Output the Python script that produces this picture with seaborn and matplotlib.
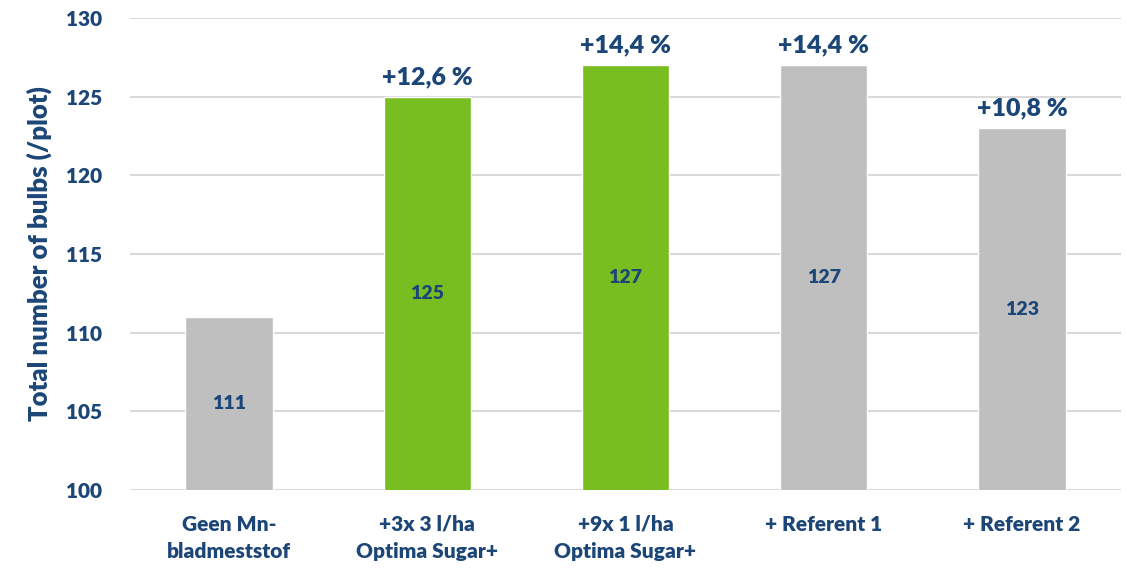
import matplotlib
matplotlib.use("Agg")
import matplotlib.pyplot as plt
import seaborn as sns
import pandas as pd

# Data
categorieen = ["Geen Mn-\nbladmeststof", "+3x 3 l/ha\nOptima Sugar+", "+9x 1 l/ha\nOptima Sugar+",
               "+ Referent 1", "+ Referent 2"]
aantal_bollen = [111, 125, 127, 127, 123]
toename = ["", "+12,6 %", "+14,4 %", "+14,4 %", "+10,8 %"]
kleuren = ["#BFBFBF", "#78BE21", "#78BE21", "#BFBFBF", "#BFBFBF"]

navy = "#1B4677"
gewicht = "heavy"

sns.set_style("white")
plt.rcParams["font.family"] = ["Lato", "DejaVu Sans"]

df = pd.DataFrame({"cat": categorieen, "val": aantal_bollen})

fig = plt.figure(figsize=(11.27, 5.73), dpi=100)
ax = fig.add_axes([0.1153, 0.1449, 0.8794, 0.8237])

sns.barplot(data=df, x="cat", y="val", hue="cat", palette=kleuren, legend=False,
            width=0.44, saturation=1, ax=ax, zorder=3)

ax.set_ylim(100, 130)
ax.set_yticks(range(100, 131, 5))
ax.grid(axis="y", color="#D9D9D9", linewidth=1.5, zorder=0)
ax.set_axisbelow(True)
sns.despine(ax=ax, left=True, bottom=True)

ax.tick_params(axis="both", length=0, colors=navy)
ax.tick_params(axis="y", pad=20, labelsize=15)
ax.tick_params(axis="x", pad=18, labelsize=15)
for lbl in ax.get_xticklabels() + ax.get_yticklabels():
    lbl.set_fontweight(gewicht)
    lbl.set_color(navy)
    lbl.set_linespacing(1.5)

ax.set_xlabel("")
ax.set_ylabel("Total number of bulbs (/plot)", fontsize=18.5, fontweight=gewicht,
              color=navy, labelpad=10)

# Labels in de balken en percentages erboven
for i, (v, t) in enumerate(zip(aantal_bollen, toename)):
    ax.text(i, (v + 100) / 2, str(v), ha="center", va="center",
            fontsize=14, fontweight=gewicht, color=navy, zorder=4)
    if t:
        ax.text(i, v + 0.55, t, ha="center", va="bottom",
                fontsize=18, fontweight=gewicht, color=navy, zorder=4)

fig.savefig("out.png", dpi=100)
